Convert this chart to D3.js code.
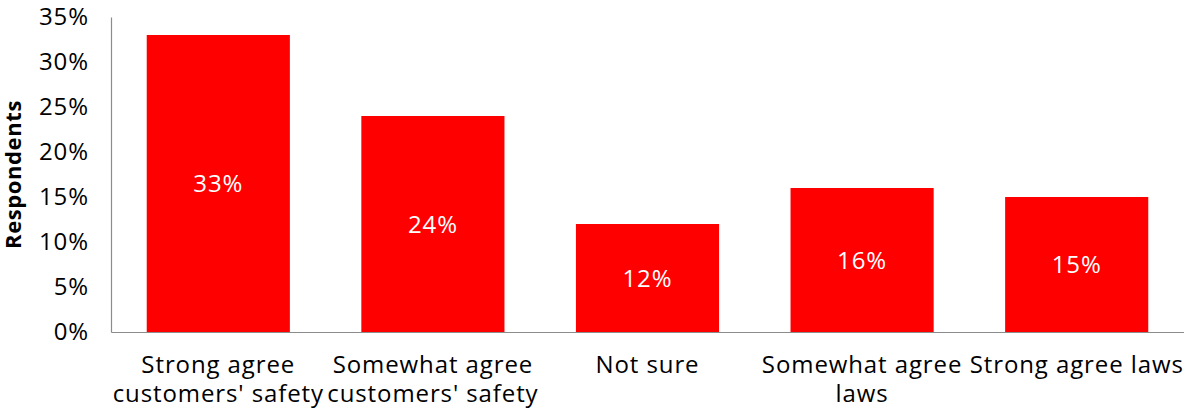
<!DOCTYPE html>
<html>
<head>
<meta charset="utf-8">
<script src="https://cdn.jsdelivr.net/npm/d3@7"></script>
<style>
  html, body { margin: 0; padding: 0; background: #fff; }
  svg { display: block; font-family: "Open Sans", sans-serif; }
</style>
</head>
<body>
<svg id="chart" width="1184" height="410"></svg>
<script>
// Survey answers and share of respondents (%)
const categories = [
  "Strong agree customers' safety",
  "Somewhat agree customers' safety",
  "Not sure",
  "Somewhat agree laws",
  "Strong agree laws"
];
const values = [33, 24, 12, 16, 15];
const yTicks = [0, 5, 10, 15, 20, 25, 30, 35];
const yTitle = "Respondents";

const FONT = "'Open Sans', sans-serif";
const FS = "24px";
const LS = "0.9px";

const svg = d3.select("#chart");
const margin = { left: 111, right: 0, top: 17, bottom: 78 };
const W = 1184, H = 410;

const x = d3.scaleBand()
  .domain(categories)
  .range([margin.left, W - margin.right])
  .paddingInner(0.333)
  .paddingOuter(0.1665);

const y = d3.scaleLinear()
  .domain([0, 35])
  .range([H - margin.bottom, margin.top]);

// Bars
svg.append("g").selectAll("rect")
  .data(values)
  .join("rect")
  .attr("x", (d, i) => x(categories[i]))
  .attr("y", d => y(d))
  .attr("width", x.bandwidth())
  .attr("height", d => y(0) - y(d))
  .attr("fill", "#ff0000");

// Value labels inside bars
svg.append("g").selectAll("text")
  .data(values)
  .join("text")
  .attr("x", (d, i) => x(categories[i]) + x.bandwidth() / 2)
  .attr("y", d => (y(d) + y(0)) / 2)
  .attr("dy", "0.36em")
  .attr("text-anchor", "middle")
  .attr("fill", "#fff")
  .style("font-family", FONT)
  .style("font-size", FS)
  .style("letter-spacing", LS)
  .text(d => d + "%");

// Y axis
const yAxis = svg.append("g")
  .attr("transform", `translate(${margin.left},0)`)
  .call(d3.axisLeft(y).tickValues(yTicks).tickSize(0).tickPadding(22).tickFormat(d => d + "%"));
yAxis.select(".domain").attr("stroke", "#8c8c8c").attr("stroke-width", 1.2);
yAxis.selectAll("text")
  .attr("fill", "#000")
  .style("font-family", FONT)
  .style("font-size", FS)
  .style("letter-spacing", LS);

// X axis with wrapped category labels
const xAxis = svg.append("g")
  .attr("transform", `translate(0,${y(0)})`)
  .call(d3.axisBottom(x).tickSize(0).tickPadding(0));
xAxis.select(".domain").attr("stroke", "#8c8c8c").attr("stroke-width", 1.2);
xAxis.selectAll("text")
  .attr("fill", "#000")
  .attr("dy", null)
  .attr("y", null)
  .style("font-family", FONT)
  .style("font-size", FS)
  .style("letter-spacing", LS)
  .each(function (d) {
    const t = d3.select(this);
    const words = d.split(" ");
    t.text(null);
    const maxW = x.step() + 6;
    const lines = [];
    let line = [];
    const probe = t.append("tspan");
    words.forEach(w => {
      probe.text(line.concat(w).join(" "));
      if (probe.node().getComputedTextLength() > maxW && line.length) {
        lines.push(line.join(" "));
        line = [w];
      } else {
        line.push(w);
      }
    });
    lines.push(line.join(" "));
    probe.remove();
    lines.forEach((ln, k) => {
      t.append("tspan")
        .attr("x", 0)
        .attr("y", 41 + k * 29)
        .text(ln);
    });
  });

// Y axis title
svg.append("text")
  .attr("transform", `translate(21,${(y(0) + y(35)) / 2}) rotate(-90)`)
  .attr("text-anchor", "middle")
  .style("font-family", FONT)
  .style("font-size", "22px")
  .style("font-weight", "bold")
  .style("letter-spacing", "0.6px")
  .text(yTitle);
</script>
</body>
</html>
